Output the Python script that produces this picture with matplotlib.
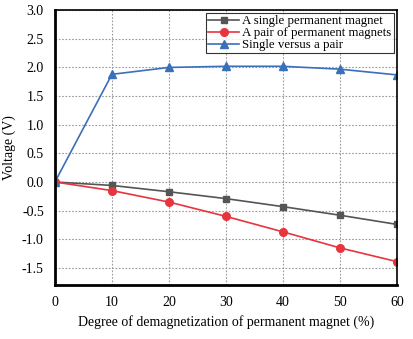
import numpy as np
import matplotlib
matplotlib.use("Agg")
import matplotlib.pyplot as plt

plt.rcParams['font.family'] = ['Liberation Serif', 'DejaVu Serif']

# data
degree = [0, 10, 20, 30, 40, 50, 60]
single = [0.0, -0.06, -0.17, -0.29, -0.43, -0.58, -0.74]
pair = [0.0, -0.15, -0.35, -0.60, -0.87, -1.15, -1.39]
versus = [0.0, 1.88, 2.00, 2.02, 2.02, 1.97, 1.87]

fig = plt.figure(figsize=(4.13, 3.39), dpi=100)
ax = fig.add_axes([0.133, 0.159, 0.828, 0.811])

ax.plot(degree, single, color="#555555", marker="s", markersize=5, lw=1.2,
        label="A single permanent magnet")
ax.plot(degree, pair, color="#e8343c", marker="o", markersize=5.5, lw=1.2,
        label="A pair of permanent magnets")
ax.plot(degree, versus, color="#3a6fba", marker="^", markersize=6, lw=1.2,
        label="Single versus a pair")

ax.set_xlim(0, 60)
ax.set_ylim(-1.8, 3.0)
ax.set_xticks(degree)
ax.set_yticks(np.arange(-1.5, 3.01, 0.5))
ax.yaxis.set_major_formatter(matplotlib.ticker.FormatStrFormatter('%.1f'))
ax.tick_params(length=0, labelsize=10, pad=8)
ax.grid(True, color="#999999", linestyle=(0, (1.5, 1.5)), lw=0.8)

for side in ["left", "bottom"]:
    ax.spines[side].set_linewidth(2.0)
for side in ["top", "right"]:
    ax.spines[side].set_linewidth(1.2)

ax.set_xlabel("Degree of demagnetization of permanent magnet (%)", fontsize=10)
ax.set_ylabel("Voltage (V)", fontsize=10)

leg = ax.legend(loc="upper right", fontsize=9.3, frameon=True, fancybox=False,
                edgecolor="black", borderpad=0.15, labelspacing=0.0,
                handlelength=2.4, handletextpad=0.25, borderaxespad=0.25)
leg.get_frame().set_linewidth(0.8)

fig.savefig("out.png", dpi=100)
